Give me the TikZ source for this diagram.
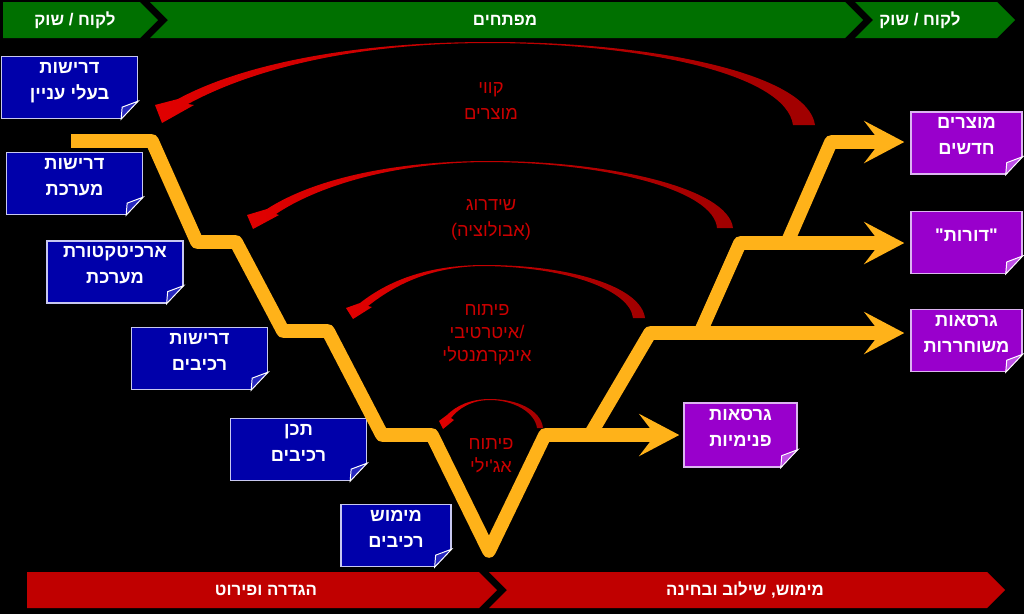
\documentclass[tikz,border=0pt]{standalone}
\usepackage{fontspec}
\newfontfamily\hebfont[Script=Hebrew]{Liberation Sans}
\newfontfamily\latfont{Liberation Sans}
\TeXXeTstate=1
\usetikzlibrary{arrows.meta,calc,positioning}
\newcommand{\hb}[1]{\beginR #1\endR}

\definecolor{bargreen}{RGB}{0,112,0}
\definecolor{barred}{RGB}{192,0,0}
\definecolor{noteblue}{RGB}{0,0,170}
\definecolor{noteline}{RGB}{200,200,240}
\definecolor{bluefold}{RGB}{40,40,190}
\definecolor{notepurple}{RGB}{153,0,204}
\definecolor{purpleline}{RGB}{220,180,240}
\definecolor{purplefold}{RGB}{190,80,230}
\definecolor{vyellow}{RGB}{255,178,25}
\definecolor{arcbright}{RGB}{225,0,0}
\definecolor{arcdark}{RGB}{160,0,0}
\definecolor{labelred}{RGB}{204,0,0}

\begin{document}
\begin{tikzpicture}[
  x=0.025cm, y=-0.025cm,
  note/.style={rectangle, line width=0.9pt, minimum height=1.55cm, inner sep=2pt, align=center, text=white, text depth=10pt, font=\hebfont\bfseries\fontsize{13}{18.5}\selectfont},
  bluenote/.style={note, fill=noteblue, draw=noteline, minimum width=3.4cm},
  purplenote/.style={note, fill=notepurple, draw=purpleline, minimum width=2.78cm},
  barlabel/.style={text=white, font=\hebfont\bfseries\fontsize{12}{14}\selectfont},
  arclabel/.style={text=labelred, align=center, font=\hebfont\fontsize{13}{18}\selectfont},
  vline/.style={draw=vyellow, line width=0.34cm, line join=round},
  vpath/.style={vline, -{Stealth[length=1cm, width=1.05cm, inset=0.4cm]}, shorten >=0.15cm},
  redarc/.style={left color=arcbright, right color=arcdark}
]
\useasboundingbox (0,0) rectangle (1024,614);
\fill[black] (0,0) rectangle (1024,614);

% Top bar
\fill[bargreen] (3,2) -- (140,2) -- (158,20) -- (140,38) -- (3,38) -- cycle;
\fill[bargreen] (150,2) -- (845,2) -- (863,20) -- (845,38) -- (150,38) -- (168,20) -- cycle;
\fill[bargreen] (855,2) -- (997,2) -- (1015,20) -- (997,38) -- (855,38) -- (873,20) -- cycle;
\node (cust1) [barlabel] at (75,20) {\hb{לקוח / שוק}};
\node (dev) [barlabel] at (505,20) {\hb{מפתחים}};
\node (cust2) [barlabel] at (920,20) {\hb{לקוח / שוק}};

% Bottom bar
\fill[barred] (27,572) -- (479,572) -- (497,590) -- (479,608) -- (27,608) -- cycle;
\fill[barred] (489,572) -- (987,572) -- (1005,590) -- (987,608) -- (489,608) -- (507,590) -- cycle;
\node (defn) [barlabel] at (266,590) {\hb{הגדרה ופירוט}};
\node (integ) [barlabel] at (745,590) {\hb{מימוש\kern0pt, שילוב ובחינה}};

% Feedback arcs
\shade[redarc] (815,125) .. controls (808,75) and (660,42) .. (490,42)
  .. controls (340,42) and (235,68) .. (178,99)
  -- (155,105) -- (162,123) -- (194,105) -- (188,104)
  .. controls (243,74) and (342,43) .. (490,43)
  .. controls (642,43.5) and (786,74) .. (793,125) -- cycle;
\shade[redarc] (733,228) .. controls (728,188) and (610,161) .. (490,161)
  .. controls (390,161) and (312,180) .. (267,209)
  -- (247,215) -- (253,229) -- (279,215) -- (276,214)
  .. controls (316,187) and (393,162) .. (490,162)
  .. controls (607,163) and (714,190) .. (717,228) -- cycle;
\shade[redarc] (645,318) .. controls (641,287) and (572,265) .. (485,265)
  .. controls (425,265) and (387,282) .. (360,303)
  -- (346,308) -- (353,319) -- (372,307) -- (368,306)
  .. controls (391,288) and (427,266) .. (485,266)
  .. controls (567,267) and (630,290) .. (633,318) -- cycle;
\shade[redarc] (543,428) .. controls (541,410) and (517,399) .. (490,399)
  .. controls (470,399) and (456,406) .. (447,415)
  -- (439,421) -- (443,429) -- (454,420) -- (451,418)
  .. controls (458,409) and (471,400) .. (490,400)
  .. controls (513,400) and (535,412) .. (537,428) -- cycle;

\node (lines) [arclabel] at (491,101) {\hb{קווי}\\\hb{מוצרים}};
\node (upgrade) [arclabel] at (491,220) {\hb{שידרוג}\\{\latfont(}\hb{אבולוציה}{\latfont)}};
\node (iter) [arclabel, font=\hebfont\fontsize{13}{16.4}\selectfont] at (487,335) {\hb{פיתוח}\\\hb{איטרטיבי}/\\\hb{אינקרמנטלי}};
\node (agile) [arclabel, font=\hebfont\fontsize{13}{16.4}\selectfont] at (491,456) {\hb{פיתוח}\\\hb{אג'ילי}};

% Definition side
\node (sreq) [bluenote] at (69.5,87.5) {\hb{דרישות}\\\hb{בעלי עניין}};
\node (sysreq) [bluenote] at (74.5,183.5) {\hb{דרישות}\\\hb{מערכת}};
\node (arch) [bluenote] at (115,272) {\hb{ארכיטקטורת}\\\hb{מערכת}};
\node (compreq) [bluenote] at (199.5,358.5) {\hb{דרישות}\\\hb{רכיבים}};
\node (compdes) [bluenote] at (298.5,449.5) {\hb{תכן}\\\hb{רכיבים}};
\node (compimp) [bluenote, minimum width=2.75cm] at (396,535.5) {\hb{מימוש}\\\hb{רכיבים}};

% Delivery side
\node (pnew) [purplenote] at (966.5,143) {\hb{מוצרים}\\\hb{חדשים}};
\node (pgen) [purplenote, below=0.9cm of pnew] {\hb{"דורות"}};
\node (prel) [purplenote, below=0.875cm of pgen] {\hb{גרסאות}\\\hb{משוחררות}};
\node (pint) [purplenote, minimum width=2.83cm, minimum height=1.6cm] at (740.5,435) {\hb{גרסאות}\\\hb{פנימיות}};

% Folded corners
\foreach \n/\f in {sreq/bluefold, sysreq/bluefold, arch/bluefold, compreq/bluefold, compdes/bluefold, compimp/bluefold, pnew/purplefold, pgen/purplefold, prel/purplefold, pint/purplefold} {
  \fill[black] ($(\n.south east)+(1.5,1.5)$) -- ($(\n.south east)+(1.5,-19)$) -- ($(\n.south east)+(-18,1.5)$) -- cycle;
  \filldraw[fill=\f, draw=white, line width=0.7pt] ($(\n.south east)+(0,-18)$)
    .. controls ($(\n.south east)+(-8,-15)$) .. ($(\n.south east)+(-16,-12)$)
    -- ($(\n.south east)+(-17,0)$) -- cycle;
}

% V path
\coordinate (v0) at (71,141);
\coordinate (v1) at (152,141);
\coordinate (v2) at (197,242);
\coordinate (v3) at (236,242);
\coordinate (v4) at (283,331);
\coordinate (v5) at (328,331);
\coordinate (v6) at (382,435);
\coordinate (v7) at (432,435);
\coordinate (v8) at (489,551);
\coordinate (v9) at (545,435);
\coordinate (b1) at (590,435);
\coordinate (b1t) at (650,333);
\coordinate (b2) at (700,333);
\coordinate (b2t) at (740,243);
\coordinate (b3) at (787,243);
\coordinate (b3t) at (831,142);

\draw[vpath, shorten >=0.1cm] (v0) -- (v1) -- (v2) -- (v3) -- (v4) -- (v5) -- (v6) -- (v7) -- (v8) -- (v9) -- (pint.west |- v9);
\draw[vpath] (b1) -- (b1t) -- (prel.west |- b1t);
\draw[vpath] (b2) -- (b2t) -- (pgen.west |- b2t);
\draw[vpath] (b3) -- (b3t) -- (pnew.west |- b3t);

\end{tikzpicture}
\end{document}
